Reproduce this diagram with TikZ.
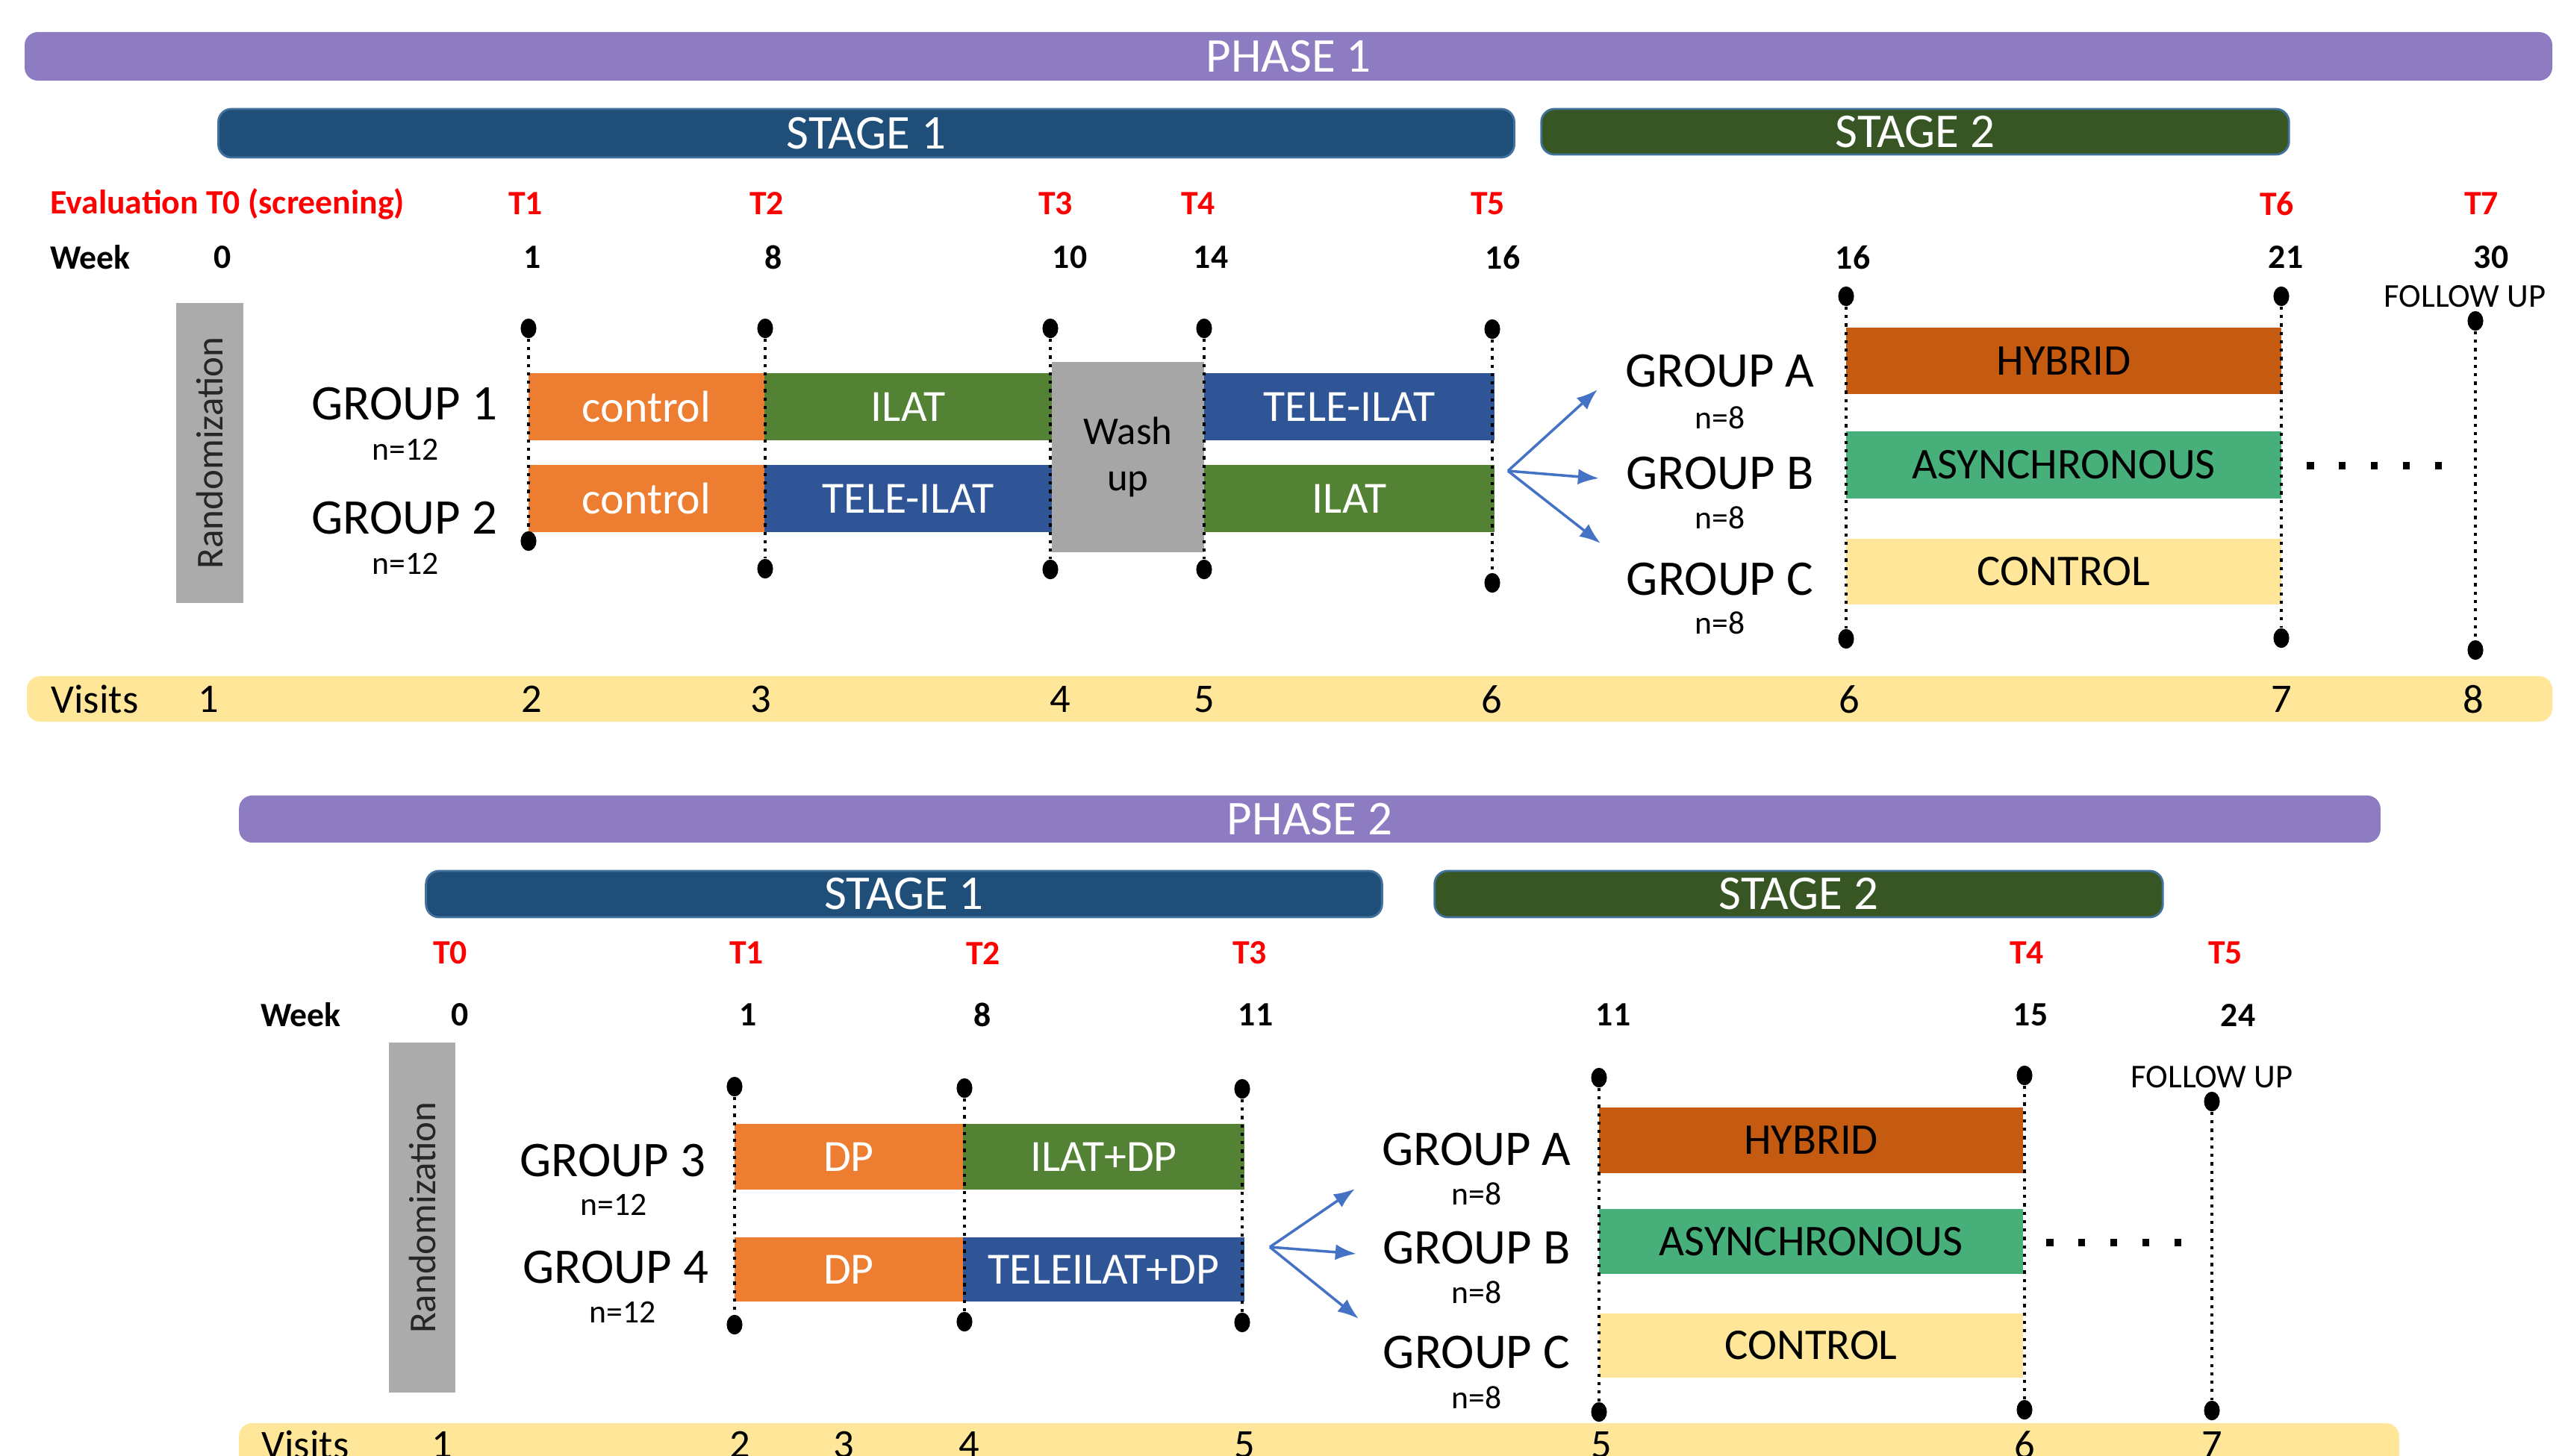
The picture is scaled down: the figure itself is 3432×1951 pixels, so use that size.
\documentclass[tikz,border=0pt]{standalone}
\usepackage{fontspec}
\setmainfont{Carlito}
\usetikzlibrary{arrows.meta}

\definecolor{phasec}{HTML}{8E7CC2}
\definecolor{stageone}{HTML}{1F4E79}
\definecolor{stagetwo}{HTML}{375623}
\definecolor{stageline}{HTML}{41719C}
\definecolor{ctrlc}{HTML}{ED7D31}
\definecolor{ilatc}{HTML}{548235}
\definecolor{telec}{HTML}{2F5597}
\definecolor{washc}{HTML}{A6A6A6}
\definecolor{hybc}{HTML}{C55A11}
\definecolor{asyc}{HTML}{47B07A}
\definecolor{conc}{HTML}{FFE699}
\definecolor{randc}{HTML}{ABABAB}
\definecolor{arrc}{HTML}{4472C4}

\newcommand\fsz[1]{\fontsize{#1}{#1}\selectfont}

\tikzset{
  phasebar/.style={fill=phasec, rounded corners=5pt, inner sep=0pt, text=white, font=\fsz{18.5}},
  stagebar/.style={draw=stageline, line width=0.8pt, rounded corners=5pt, inner sep=0pt, text=white, font=\fsz{18.5}},
  visitbar/.style={fill=conc, rounded corners=5pt, inner sep=0pt},
  tbox/.style={inner sep=0pt, text=white, font=\fsz{17}},
  sbox/.style={inner sep=0pt, font=\fsz{16.7}},
  randbox/.style={fill=randc, rotate=90, inner sep=0pt, text=black!85, font=\fsz{14.5}},
  grp/.style={font=\fsz{19}},
  nlab/.style={font=\fsz{12.4}},
  evl/.style={text=red, font=\bfseries\fsz{13}},
  wk/.style={font=\bfseries\fsz{13}},
  vis/.style={font=\fsz{15.5}},
  fup/.style={font=\fsz{12.7}},
  tdot/.style={ellipse, fill=black, inner sep=0pt, minimum width=6pt, minimum height=7.5pt},
  tline/.style={line width=0.9pt, dash pattern=on 1.2pt off 2pt},
  farrow/.style={arrc, line width=1pt, -{Latex[length=8pt,width=6pt]}},
  ell/.style={line width=2.8pt, dash pattern=on 2.7pt off 9.5pt}
}
\usetikzlibrary{shapes.geometric}

\begin{document}
\begin{tikzpicture}[x=0.01cm,y=-0.01cm]
\path[use as bounding box, clip] (0,0) rectangle (3432,1951);

% PHASE 1
\node[phasebar, minimum width=33.84cm, minimum height=0.65cm] (ph1) at (1726,75.5) {PHASE 1};
\node[stagebar, fill=stageone, minimum width=17.35cm, minimum height=0.65cm] (st11) at (1160.5,178.5) {STAGE 1};
\node[stagebar, fill=stagetwo, minimum width=10.01cm, minimum height=0.61cm] (st12) at (2565.5,176.5) {STAGE 2};

\node[evl, anchor=west] (ev1) at (55,273) {Evaluation T0 (screening)};
\foreach \x/\t in {704/T1,1027/T2,1414/T3,1605/T4,1993/T5,3050/T6,3324/T7}
  \node[evl] (e1\t) at (\x,273) {\t};
\node[wk] (wk1) at (121,345) {Week};
\foreach \x/\w [count=\i] in {298/0,713/1,1036/8,1433/10,1622/14,2013/16,2482/16,3062/21,3337/30}
  \node[wk] (w1n\i) at (\x,345) {\w};

\node[randbox, minimum width=4.02cm, minimum height=0.9cm] (rand1) at (281,607) {Randomization};

\node[grp] (g1) at (542,541) {GROUP 1};
\node[nlab] (n1) at (543,602) {n=12};
\node[grp] (g2) at (542,694) {GROUP 2};
\node[nlab] (n2) at (543,755) {n=12};

\node[tbox, fill=ctrlc, minimum width=3.16cm, minimum height=0.9cm] (g1a) at (866,545) {control};
\node[tbox, fill=ilatc, minimum width=3.85cm, minimum height=0.9cm] (g1b) at (1216.5,545) {ILAT};
\node[tbox, fill=telec, minimum width=3.89cm, minimum height=0.9cm] (g1c) at (1807.5,545) {TELE-ILAT};
\node[tbox, fill=ctrlc, minimum width=3.16cm, minimum height=0.9cm] (g2a) at (866,668) {control};
\node[tbox, fill=telec, minimum width=3.85cm, minimum height=0.9cm] (g2b) at (1216.5,668) {TELE-ILAT};
\node[tbox, fill=ilatc, minimum width=3.89cm, minimum height=0.9cm] (g2c) at (1807.5,668) {ILAT};
\node[tbox, fill=washc, text=black, align=center, minimum width=2.04cm, minimum height=2.55cm,
      font=\fontsize{15}{17.5}\selectfont] (wash) at (1511,612.5) {Wash\\up};

\coordinate (a1) at (2020,631);
\coordinate (a1a) at (2140,522);
\coordinate (a1b) at (2142,641);
\coordinate (a1c) at (2144,728);
\draw[farrow] (a1) -- (a1a);
\draw[farrow] (a1) -- (a1b);
\draw[farrow] (a1) -- (a1c);

\node[grp] (ga1) at (2304,497) {GROUP A};
\node[nlab] (na1) at (2304,560) {n=8};
\node[grp] (gb1) at (2304,634) {GROUP B};
\node[nlab] (nb1) at (2304,694) {n=8};
\node[grp] (gc1) at (2304,776) {GROUP C};
\node[nlab] (nc1) at (2304,835) {n=8};

\node[sbox, fill=hybc, minimum width=5.83cm, minimum height=0.89cm] (hy1) at (2764.5,483.5) {HYBRID};
\node[sbox, fill=asyc, minimum width=5.83cm, minimum height=0.9cm] (as1) at (2764.5,623) {ASYNCHRONOUS};
\node[sbox, fill=conc, minimum width=5.83cm, minimum height=0.88cm] (co1) at (2764.5,766) {CONTROL};

\foreach \i/\x/\a/\b in {1/708/440/725,2/1025/440/762,3/1407/440/763,4/1613/440/763,
                         5/1999/441/781,6/2473/397/856,7/3056/397/855,8/3316/430/871}{
  \node[tdot] (p1t\i) at (\x,\a) {};
  \node[tdot] (p1b\i) at (\x,\b) {};
  \draw[tline] (p1t\i) -- (p1b\i);
}
\node[fup] (fu1) at (3302,397) {FOLLOW UP};
\coordinate (d1s) at (3090,624);
\coordinate (d1e) at (3275,624);
\draw[ell] (d1s) -- (d1e);

\node[visitbar, minimum width=33.81cm, minimum height=0.61cm] (vb1) at (1727.5,936.5) {};
\node[vis] (vl1) at (127,937) {Visits};
\foreach \x/\v [count=\i] in {279/1,712/2,1019/3,1420/4,1613/5,1998/6,2477/6,3056/7,3313/8}
  \node[vis] (v1n\i) at (\x,937) {\v};

% PHASE 2
\node[phasebar, minimum width=28.67cm, minimum height=0.63cm] (ph2) at (1754.5,1097.5) {PHASE 2};
\node[stagebar, fill=stageone, minimum width=12.8cm, minimum height=0.62cm] (st21) at (1211,1198) {STAGE 1};
\node[stagebar, fill=stagetwo, minimum width=9.75cm, minimum height=0.62cm] (st22) at (2409.5,1198) {STAGE 2};

\foreach \x/\t in {603/T0,1000/T1,1317/T2,1674/T3,2715/T4,2981/T5}
  \node[evl] (e2\t) at (\x,1277) {\t};
\node[wk] (wk2) at (403,1360) {Week};
\foreach \x/\w [count=\i] in {616/0,1002/1,1316/8,1682/11,2161/11,2720/15,2998/24}
  \node[wk] (w2n\i) at (\x,1360) {\w};

\node[randbox, minimum width=4.69cm, minimum height=0.89cm] (rand2) at (565.5,1631.5) {Randomization};

\node[grp] (g3) at (821,1555) {GROUP 3};
\node[nlab] (n3) at (822,1614) {n=12};
\node[grp] (g4) at (825,1698) {GROUP 4};
\node[nlab] (n4) at (834,1758) {n=12};

\node[tbox, fill=ctrlc, minimum width=3.06cm, minimum height=0.88cm] (g3a) at (1137,1550) {DP};
\node[tbox, fill=ilatc, minimum width=3.77cm, minimum height=0.88cm] (g3b) at (1478.5,1550) {ILAT+DP};
\node[tbox, fill=ctrlc, minimum width=3.06cm, minimum height=0.86cm] (g4a) at (1137,1701) {DP};
\node[tbox, fill=telec, minimum width=3.77cm, minimum height=0.86cm] (g4b) at (1478.5,1701) {TELEILAT+DP};

\coordinate (a2) at (1701,1671);
\coordinate (a2a) at (1815,1593);
\coordinate (a2b) at (1817,1680);
\coordinate (a2c) at (1820,1767);
\draw[farrow] (a2) -- (a2a);
\draw[farrow] (a2) -- (a2b);
\draw[farrow] (a2) -- (a2c);

\node[grp] (ga2) at (1978,1540) {GROUP A};
\node[nlab] (na2) at (1978,1600) {n=8};
\node[grp] (gb2) at (1978,1672) {GROUP B};
\node[nlab] (nb2) at (1978,1732) {n=8};
\node[grp] (gc2) at (1978,1812) {GROUP C};
\node[nlab] (nc2) at (1978,1873) {n=8};

\node[sbox, fill=hybc, minimum width=5.68cm, minimum height=0.88cm] (hy2) at (2426,1528) {HYBRID};
\node[sbox, fill=asyc, minimum width=5.68cm, minimum height=0.87cm] (as2) at (2426,1663.5) {ASYNCHRONOUS};
\node[sbox, fill=conc, minimum width=5.68cm, minimum height=0.86cm] (co2) at (2426,1803) {CONTROL};

\foreach \i/\x/\a/\b in {1/984/1456/1775,2/1292/1458/1771,3/1664/1459/1772,
                         4/2142/1444/1892,5/2712/1441/1889,6/2963/1476/1890}{
  \node[tdot] (p2t\i) at (\x,\a) {};
  \node[tdot] (p2b\i) at (\x,\b) {};
  \draw[tline] (p2t\i) -- (p2b\i);
}
\node[fup] (fu2) at (2963,1443) {FOLLOW UP};
\coordinate (d2s) at (2741,1665);
\coordinate (d2e) at (2925,1665);
\draw[ell] (d2s) -- (d2e);

\node[visitbar, minimum width=28.92cm, minimum height=0.61cm] (vb2) at (1767,1937.5) {};
\node[vis] (vl2) at (409,1936) {Visits};
\foreach \x/\v [count=\i] in {592/1,991/2,1130/3,1298/4,1667/5,2145/5,2712/6,2963/7}
  \node[vis] (v2n\i) at (\x,1936) {\v};
\end{tikzpicture}
\end{document}
